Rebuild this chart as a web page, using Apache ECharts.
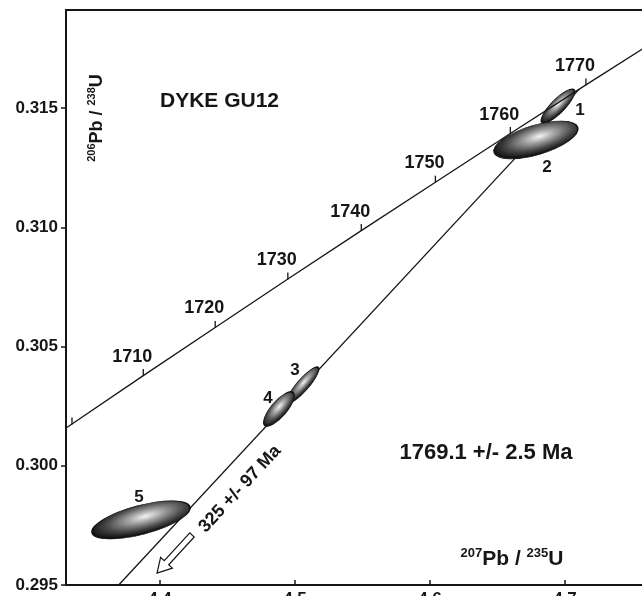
<!DOCTYPE html>
<html>
<head>
<meta charset="utf-8">
<script src="https://cdn.jsdelivr.net/npm/echarts@6/dist/echarts.min.js"></script>
<style>
  html, body { margin: 0; padding: 0; background: #ffffff; }
  #chart { width: 642px; height: 596px; }
</style>
</head>
<body>
<div id="chart"></div>
<script>
// Axis tick values
const xTicks = [4.4, 4.5, 4.6, 4.7];
const yTicks = [0.295, 0.300, 0.305, 0.310, 0.315];

// Concordia curve (207Pb/235U, 206Pb/238U) at 10 Ma steps
const concordiaAge = [1690, 1700, 1710, 1720, 1730, 1740, 1750, 1760, 1770, 1780];
const concordiaX   = [4.2825, 4.3348, 4.3876, 4.4409, 4.4947, 4.5491, 4.6040, 4.6595, 4.7155, 4.7721];
const concordiaY   = [0.29974, 0.30175, 0.30378, 0.30580, 0.30783, 0.30986, 0.31189, 0.31393, 0.31597, 0.31801];
// Ages that carry a tick mark, and the ones that also carry a label
const tickAges  = [1700, 1710, 1720, 1730, 1740, 1750, 1760, 1770];
const labelAges = [1710, 1720, 1730, 1740, 1750, 1760, 1770];

// Discordia chord (lower end at the axis, upper end at the concordia intercept)
const discordiaX = [4.3694, 4.7104];
const discordiaY = [0.2950, 0.31578];

// Zircon analyses: centre, half-extent of the error ellipse in x and y, correlation
const spotName = ['1', '2', '3', '4', '5'];
const spotX    = [4.6948, 4.6785, 4.5059, 4.4881, 4.3859];
const spotY    = [0.31508, 0.31366, 0.30339, 0.30238, 0.29773];
const spotErrX = [0.0124, 0.0310, 0.0117, 0.0113, 0.0362];
const spotErrY = [0.00071, 0.00079, 0.00075, 0.00072, 0.00080];
const spotRho  = [0.83, 0.58, 0.87, 0.76, 0.62];

// Arrow pointing along the chord towards the lower intercept
const arrowFrom = [4.4237, 0.29710];
const arrowTo   = [4.3978, 0.29550];

const FONT = '"Liberation Sans", Arial, Helvetica, sans-serif';
const INK = '#161616';

// pixel offsets of the spot numbers from the ellipse centres
const spotLabelOffset = [[22, 4], [11, 27], [-8, -15], [-11, -11], [-2, -23]];

const concordiaData = concordiaX.map((x, i) => [x, concordiaY[i]]);
const discordiaData = discordiaX.map((x, i) => [x, discordiaY[i]]);
const tickData = tickAges.map(a => {
  const i = concordiaAge.indexOf(a);
  return { value: [concordiaX[i], concordiaY[i], a], label: { show: labelAges.indexOf(a) >= 0 } };
});
const spotData = spotX.map((x, i) => [x, spotY[i], spotErrX[i], spotErrY[i], spotRho[i], i]);

const chart = echarts.init(document.getElementById('chart'), null, { renderer: 'canvas' });

function renderEllipse(params, api) {
  const cx = api.value(0), cy = api.value(1);
  const ex = api.value(2), ey = api.value(3), rho = api.value(4);
  const idx = api.value(5);
  const c = api.coord([cx, cy]);
  const px = api.coord([cx + ex, cy]);
  const py = api.coord([cx, cy + ey]);
  const sx = px[0] - c[0];
  const sy = c[1] - py[1];
  // covariance in pixel space (y pointing up)
  const vxx = sx * sx, vyy = sy * sy, vxy = rho * sx * sy;
  const mean = (vxx + vyy) / 2;
  const d = Math.sqrt(((vxx - vyy) / 2) ** 2 + vxy * vxy);
  const a = Math.sqrt(mean + d);
  const b = Math.sqrt(Math.max(mean - d, 0.5));
  const ang = 0.5 * Math.atan2(2 * vxy, vxx - vyy);
  const off = spotLabelOffset[idx];
  return {
    type: 'group',
    children: [
      {
        type: 'group',
        x: c[0], y: c[1], rotation: ang,
        children: [{
          type: 'circle',
          scaleX: a / b,
          shape: { cx: 0, cy: 0, r: b },
          style: {
            fill: {
              type: 'radial', x: 0.55, y: 0.42, r: 0.55,
              colorStops: [
                { offset: 0, color: '#f4f4f4' },
                { offset: 0.3, color: '#a8a8a8' },
                { offset: 0.7, color: '#4a4a4a' },
                { offset: 1, color: '#121212' }
              ]
            },
            stroke: '#111', lineWidth: 1, strokeNoScale: true
          }
        }]
      },
      {
        type: 'text',
        x: c[0] + off[0], y: c[1] + off[1],
        style: {
          text: spotName[idx], fill: INK, font: 'bold 17px ' + FONT,
          align: 'center', verticalAlign: 'middle'
        }
      }
    ]
  };
}

function renderArrow(params, api) {
  const t = api.coord([api.value(0), api.value(1)]);
  const h = api.coord([api.value(2), api.value(3)]);
  const dx = h[0] - t[0], dy = h[1] - t[1];
  const len = Math.sqrt(dx * dx + dy * dy);
  const ux = dx / len, uy = dy / len;
  const nx = -uy, ny = ux;
  const shaft = 3, head = 8, headLen = 14;
  const bx = h[0] - ux * headLen, by = h[1] - uy * headLen;
  const pts = [
    [t[0] + nx * shaft, t[1] + ny * shaft],
    [bx + nx * shaft, by + ny * shaft],
    [bx + nx * head, by + ny * head],
    [h[0], h[1]],
    [bx - nx * head, by - ny * head],
    [bx - nx * shaft, by - ny * shaft],
    [t[0] - nx * shaft, t[1] - ny * shaft]
  ];
  return {
    type: 'polygon',
    shape: { points: pts },
    style: { fill: '#ffffff', stroke: INK, lineWidth: 1.2 }
  };
}

const option = {
  backgroundColor: '#ffffff',
  animation: false,
  grid: {
    left: 66, top: 10, width: 634, height: 575,
    outerBoundsMode: 'none', containLabel: false,
    show: true, borderColor: INK, borderWidth: 2, backgroundColor: 'transparent'
  },
  xAxis: {
    type: 'value', min: 4.33037, max: 4.80,
    axisLine: { show: true, onZero: false, lineStyle: { color: INK, width: 2 } },
    axisTick: { show: true, inside: true, length: 5, customValues: xTicks, lineStyle: { color: INK, width: 1.5 } },
    axisLabel: {
      show: true, customValues: xTicks, margin: 6,
      formatter: v => v.toFixed(1),
      color: INK, fontFamily: FONT, fontWeight: 'bold', fontSize: 17
    },
    splitLine: { show: false }
  },
  yAxis: {
    type: 'value', min: 0.295, max: 0.31911,
    axisLine: { show: true, onZero: false, lineStyle: { color: INK, width: 2 } },
    axisTick: { show: true, inside: false, length: 5, customValues: yTicks, lineStyle: { color: INK, width: 1.5 } },
    axisLabel: {
      show: true, customValues: yTicks, margin: 8,
      formatter: v => v.toFixed(3),
      color: INK, fontFamily: FONT, fontWeight: 'bold', fontSize: 17
    },
    splitLine: { show: false }
  },
  series: [
    {
      name: 'discordia', type: 'line', data: discordiaData,
      symbol: 'none', clip: true, z: 2,
      lineStyle: { color: INK, width: 1.3 }
    },
    {
      name: 'spots', type: 'custom', data: spotData, renderItem: renderEllipse,
      clip: true, z: 3
    },
    {
      name: 'concordia', type: 'line', data: concordiaData,
      symbol: 'none', clip: true, z: 4,
      lineStyle: { color: INK, width: 1.3 }
    },
    {
      name: 'ages', type: 'scatter', data: tickData, z: 5,
      symbol: 'rect', symbolSize: [1.3, 7], symbolOffset: [0, -3],
      itemStyle: { color: INK, opacity: 1 },
      label: {
        show: true, position: 'inside', offset: [-11, -16],
        formatter: p => String(p.value[2]),
        color: INK, opacity: 1, fontFamily: FONT, fontWeight: 'bold', fontSize: 18
      }
    },
    {
      name: 'arrow', type: 'custom', z: 5,
      data: [[arrowFrom[0], arrowFrom[1], arrowTo[0], arrowTo[1]]],
      renderItem: renderArrow
    }
  ],
  graphic: [
    {
      type: 'text', left: 160, top: 91,
      style: { text: 'DYKE GU12', fill: INK, font: 'bold 21px ' + FONT }
    },
    {
      type: 'text', x: 486, y: 453,
      style: { text: '1769.1 +/- 2.5 Ma', fill: INK, font: 'bold 22px ' + FONT, align: 'center', verticalAlign: 'middle' }
    },
    {
      type: 'text', x: 512, y: 558,
      style: {
        text: '{s|207}{m|Pb / }{s|235}{m|U}', align: 'center', verticalAlign: 'middle',
        rich: {
          m: { fontFamily: FONT, fontWeight: 'bold', fontSize: 21, fill: INK, color: INK, verticalAlign: 'bottom', lineHeight: 23 },
          s: { fontFamily: FONT, fontWeight: 'bold', fontSize: 13, fill: INK, color: INK, verticalAlign: 'top', lineHeight: 15 }
        }
      }
    },
    {
      type: 'text', x: 96, y: 118, rotation: Math.PI / 2,
      style: {
        text: '{s|206}{m|Pb / }{s|238}{m|U}', align: 'center', verticalAlign: 'middle',
        rich: {
          m: { fontFamily: FONT, fontWeight: 'bold', fontSize: 18, fill: INK, color: INK, verticalAlign: 'bottom', lineHeight: 20 },
          s: { fontFamily: FONT, fontWeight: 'bold', fontSize: 11, fill: INK, color: INK, verticalAlign: 'top', lineHeight: 13 }
        }
      }
    },
    {
      type: 'text', x: 240, y: 489, rotation: Math.atan(1.0766),
      style: { text: '325 +/- 97 Ma', fill: INK, font: 'bold 18px ' + FONT, align: 'center', verticalAlign: 'middle' }
    }
  ]
};

chart.setOption(option);
</script>
</body>
</html>
